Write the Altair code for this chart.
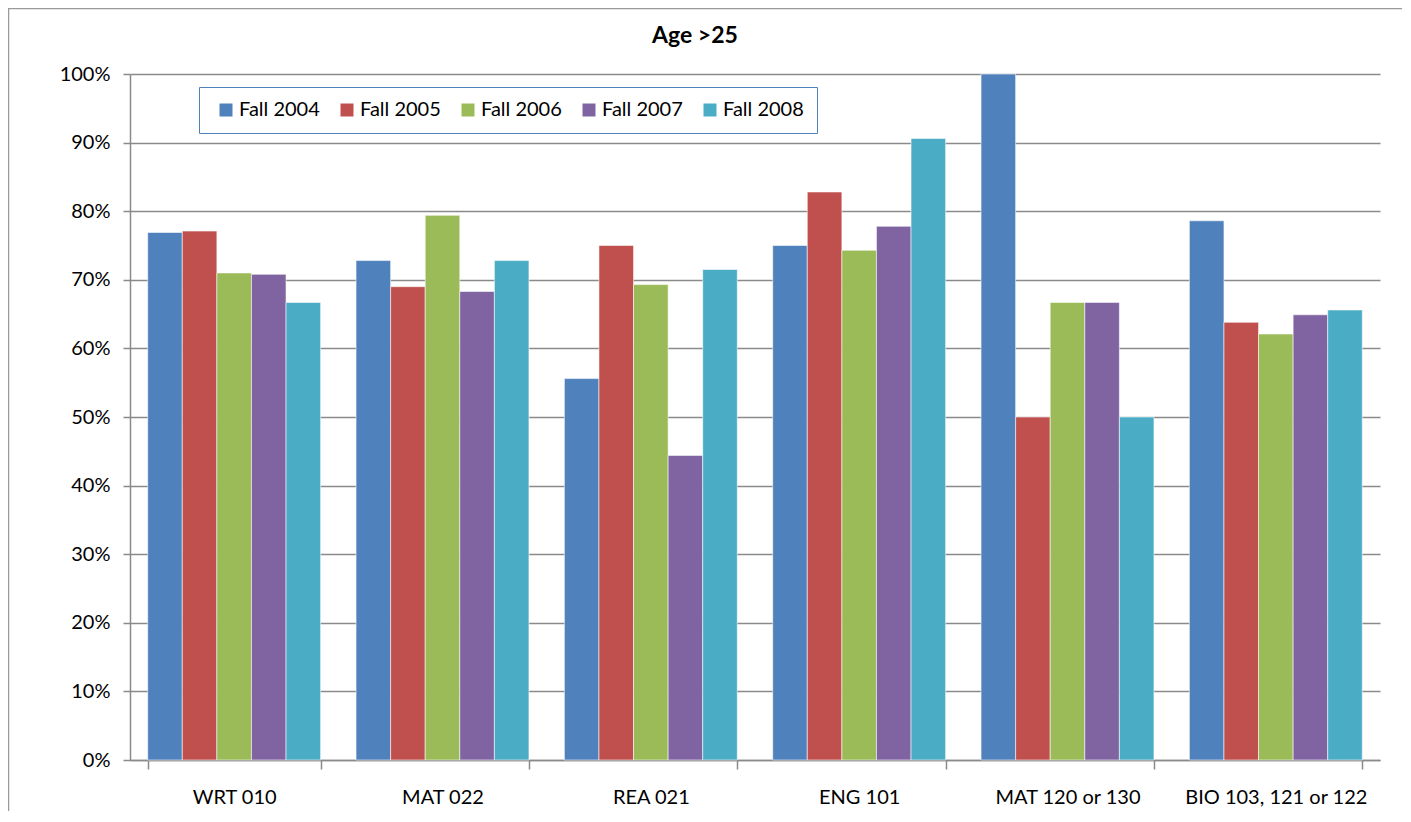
import altair as alt
import pandas as pd

categories = ["WRT 010", "MAT 022", "REA 021", "ENG 101", "MAT 120 or 130", "BIO 103, 121 or 122"]
terms = ["Fall 2004", "Fall 2005", "Fall 2006", "Fall 2007", "Fall 2008"]
fall_2004 = [76.9, 72.8, 55.6, 75.0, 100.0, 78.6]
fall_2005 = [77.1, 69.0, 75.0, 82.8, 50.0, 63.8]
fall_2006 = [71.0, 79.4, 69.3, 74.3, 66.7, 62.1]
fall_2007 = [70.8, 68.3, 44.4, 77.8, 66.7, 64.9]
fall_2008 = [66.7, 72.8, 71.5, 90.6, 50.0, 65.6]
colors = ["#4F81BD", "#C0504D", "#9BBB59", "#8064A2", "#4BACC6"]
y_ticks = [0, 0.1, 0.2, 0.3, 0.4, 0.5, 0.6, 0.7, 0.8, 0.9, 1.0]

series = [fall_2004, fall_2005, fall_2006, fall_2007, fall_2008]
rows = []
for term, vals in zip(terms, series):
    for cat, v in zip(categories, vals):
        rows.append({"course": cat, "term": term, "value": v / 100.0})
df = pd.DataFrame(rows)

FONT = "Lato"
GRID = "#8a8a8a"

bars = alt.Chart(df).mark_bar(stroke="white", strokeWidth=0.8, strokeOpacity=0.7).encode(
    x=alt.X(
        "course:N",
        sort=categories,
        scale=alt.Scale(paddingInner=0.17, paddingOuter=0.085),
        axis=alt.Axis(
            title=None,
            labelAngle=0,
            tickBand="extent",
            grid=False,
            tickSize=9,
            tickColor=GRID,
            tickWidth=1.5,
            domainColor=GRID,
            domainWidth=1.5,
            labelPadding=18,
            labelLimit=400,
            labelFont=FONT,
            labelFontSize=20,
            labelColor="black",
        ),
    ),
    xOffset=alt.XOffset("term:N", sort=terms, scale=alt.Scale(paddingInner=0, paddingOuter=0)),
    y=alt.Y(
        "value:Q",
        scale=alt.Scale(domain=[0, 1], nice=False),
        axis=alt.Axis(
            title=None,
            format=".0%",
            values=y_ticks,
            grid=True,
            gridColor=GRID,
            gridWidth=1.3,
            tickSize=7,
            tickColor=GRID,
            tickWidth=1.5,
            domainColor=GRID,
            domainWidth=1.5,
            labelPadding=13,
            labelFont=FONT,
            labelFontSize=20,
            labelColor="black",
        ),
    ),
    color=alt.Color(
        "term:N",
        sort=terms,
        scale=alt.Scale(domain=terms, range=colors),
        legend=alt.Legend(
            title=None,
            orient="none",
            legendX=69,
            legendY=13,
            direction="horizontal",
            symbolType="square",
            symbolSize=169,
            symbolStrokeWidth=0,
            symbolOffset=4,
            labelFont=FONT,
            labelFontSize=20,
            labelColor="black",
            labelOffset=3,
            columnPadding=13,
            padding=13,
            strokeColor="#4F81BD",
            fillColor="white",
        ),
    ),
)

frame_df = pd.DataFrame({"k": [0]})
frame = alt.Chart(frame_df).mark_rect(fill=None, stroke="#9a9a9a", strokeWidth=1.5).encode(
    x=alt.value(-121.5), x2=alt.value(1320), y=alt.value(-65.5), y2=alt.value(820)
)

chart = alt.layer(frame, bars).properties(
    width=1250,
    height=686,
    autosize=alt.AutoSizeParams(type="none"),
    padding={"left": 122, "top": 66, "right": 22, "bottom": 51},
    title=alt.TitleParams(
        "Age >25",
        font=FONT,
        fontSize=23,
        fontWeight="bold",
        color="black",
        anchor="middle",
        baseline="alphabetic",
        dx=-60,
        offset=-58,
    ),
).configure_view(stroke=None)

chart.save("out.html", embed_options={"renderer": "svg", "actions": False})
